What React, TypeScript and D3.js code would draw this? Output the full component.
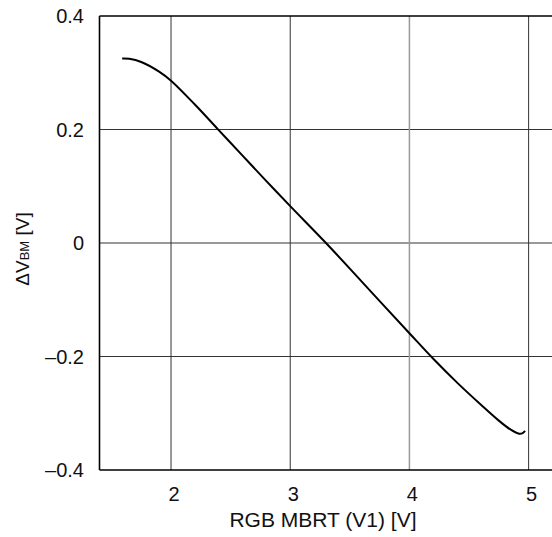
import React from "react";
import * as d3 from "d3";

const xTicks = [2, 3, 4, 5];
const yTicks = [0.4, 0.2, 0, -0.2, -0.4];
const yTickLabels = ["0.4", "0.2", "0", "\u20130.2", "\u20130.4"];
const curveX = [1.59, 1.65, 1.75, 1.9, 2.0, 2.2, 2.4, 2.6, 2.8, 3.0, 3.3, 3.6, 4.0, 4.2, 4.4, 4.6, 4.75, 4.85, 4.92, 4.95, 4.97];
const curveY = [0.325, 0.3245, 0.319, 0.302, 0.286, 0.244, 0.199, 0.154, 0.109, 0.065, 0.0, -0.068, -0.159, -0.204, -0.246, -0.285, -0.313, -0.329, -0.336, -0.335, -0.331];
const xTitle = "RGB MBRT (V1) [V]";

export default function App() {
  const W = 552, H = 537;
  const left = 99.5, top = 16, bottom = 470;
  const x = d3.scaleLinear().domain([1.4, 5.2]).range([left, left + 3.8 * 119.2]);
  const y = d3.scaleLinear().domain([-0.4, 0.4]).range([bottom, top]);
  const pts = curveX.map((v, i) => [v, curveY[i]] as [number, number]);
  const line = d3.line<[number, number]>().x(d => x(d[0])).y(d => y(d[1])).curve(d3.curveCatmullRom.alpha(0.5));
  const font = "Arial, 'Liberation Sans', sans-serif";
  return (
    <svg width={W} height={H} style={{ position: "absolute", left: 0, top: 0, background: "#fff" }}>
      {yTicks.slice(1, -1).map(t => (
        <line key={"hy" + t} x1={left} x2={W} y1={y(t)} y2={y(t)} stroke="#333" strokeWidth={1} />
      ))}
      {xTicks.map(t => (
        <line key={"gx" + t} x1={x(t)} x2={x(t)} y1={top} y2={bottom}
          stroke={t === 4 ? "#999" : "#333"} strokeWidth={t === 4 ? 1.5 : 1} />
      ))}
      <line x1={left} x2={W} y1={top} y2={top} stroke="#000" strokeWidth={1.6} />
      <line x1={left} x2={W} y1={bottom} y2={bottom} stroke="#000" strokeWidth={1.6} />
      <line x1={left} x2={left} y1={top} y2={bottom} stroke="#000" strokeWidth={1.6} />
      <path d={line(pts) || ""} fill="none" stroke="#000" strokeWidth={2} />
      {yTicks.map((t, i) => (
        <text key={"yt" + t} x={84} y={y(t) + 7} textAnchor="end" fontFamily={font} fontSize={20} fill="#111">{yTickLabels[i]}</text>
      ))}
      {xTicks.map(t => (
        <text key={"xt" + t} x={x(t) + 3} y={501} textAnchor="middle" fontFamily={font} fontSize={20} fill="#111">{t}</text>
      ))}
      <text x={323} y={527} textAnchor="middle" fontFamily={font} fontSize={21} fill="#111">{xTitle}</text>
      <text transform="translate(29,249) rotate(-90)" textAnchor="middle" fontFamily={font} fontSize={19} fill="#111">
        {"\u0394V"}<tspan fontSize={13}>BM</tspan>{" [V]"}
      </text>
    </svg>
  );
}
